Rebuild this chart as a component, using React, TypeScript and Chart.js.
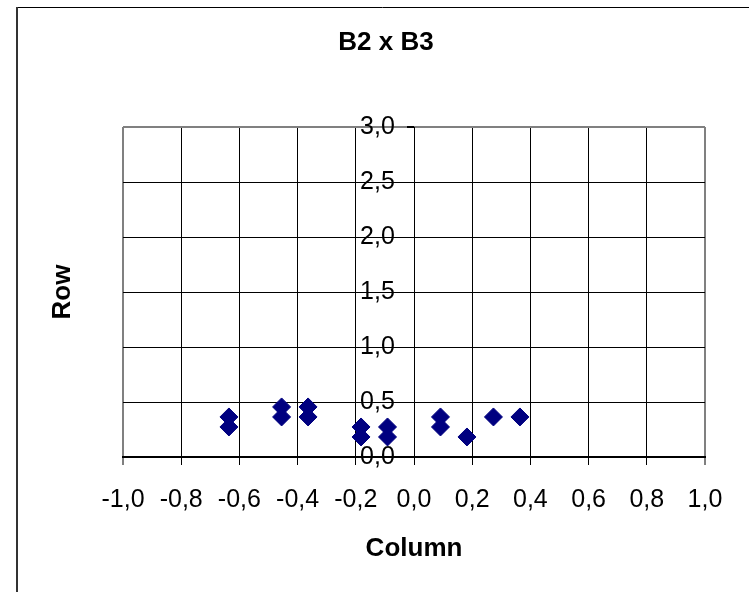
import { useEffect, useRef } from 'react';
import { Chart, registerables } from 'chart.js';

Chart.register(...registerables);

const chartTitle = 'B2 x B3';
const xAxisTitle = 'Column';
const yAxisTitle = 'Row';

const columnValues = [-0.636, -0.636, -0.455, -0.455, -0.364, -0.364, -0.182, -0.182, -0.091, -0.091, 0.091, 0.091, 0.182, 0.273, 0.364];
const rowValues = [0.364, 0.273, 0.455, 0.364, 0.455, 0.364, 0.273, 0.182, 0.273, 0.182, 0.364, 0.273, 0.182, 0.364, 0.364];

const xTicks = [-1.0, -0.8, -0.6, -0.4, -0.2, 0.0, 0.2, 0.4, 0.6, 0.8, 1.0];
const yTicks = [0.0, 0.5, 1.0, 1.5, 2.0, 2.5, 3.0];

const FONT = '"Liberation Sans", Arial, sans-serif';

const fmt = (v: number) => {
  const r = Math.round(v * 10) / 10;
  return (r === 0 ? 0 : r).toFixed(1).replace('.', ',');
};

const decorPlugin = {
  id: 'decor',
  beforeDraw(chart: any) {
    const ctx = chart.ctx;
    ctx.save();
    ctx.fillStyle = '#ffffff';
    ctx.fillRect(0, 0, chart.width, chart.height);
    ctx.strokeStyle = '#000000';
    ctx.lineWidth = 1;
    ctx.beginPath();
    ctx.moveTo(16, 7.5);
    ctx.lineTo(chart.width, 7.5);
    ctx.stroke();
    ctx.strokeStyle = '#333333';
    ctx.lineWidth = 2;
    ctx.beginPath();
    ctx.moveTo(17, 7);
    ctx.lineTo(17, chart.height);
    ctx.stroke();
    ctx.restore();
  },
  afterDraw(chart: any) {
    const ctx = chart.ctx;
    const area = chart.chartArea;
    ctx.save();
    ctx.fillStyle = '#000000';
    ctx.textAlign = 'center';
    ctx.textBaseline = 'middle';
    ctx.font = `bold 26px ${FONT}`;
    ctx.fillText(chartTitle, 386, 43);
    ctx.fillText(xAxisTitle, (area.left + area.right) / 2, 549);
    ctx.translate(63, (area.top + area.bottom) / 2);
    ctx.rotate(-Math.PI / 2);
    ctx.fillText(yAxisTitle, 0, 0);
    ctx.restore();
  },
};

export default function App() {
  const ref = useRef<HTMLCanvasElement | null>(null);

  useEffect(() => {
    if (!ref.current) return;
    const points = columnValues.map((x, i) => ({ x, y: rowValues[i] }));
    const tickFont = { family: FONT, size: 25 };
    const chart = new Chart(ref.current, {
      type: 'scatter',
      data: {
        datasets: [
          {
            label: 'B2 x B3',
            data: points,
            pointStyle: 'rectRot',
            pointRadius: 9,
            pointBackgroundColor: '#000080',
            pointBorderColor: '#000080',
            pointBorderWidth: 1,
          },
        ],
      },
      options: {
        responsive: false,
        animation: false,
        devicePixelRatio: 1,
        layout: { padding: { left: 123, top: 127, right: 44, bottom: 0 } },
        plugins: {
          legend: { display: false },
          title: { display: false },
          tooltip: { enabled: false },
        },
        scales: {
          x: {
            type: 'linear',
            position: 'bottom',
            min: -1,
            max: 1,
            afterBuildTicks: (s: any) => {
              s.ticks = xTicks.map((v) => ({ value: v }));
            },
            afterFit: (s: any) => {
              s.height = 135;
            },
            grid: {
              color: (c: any) => (c.tick && Math.abs(Math.abs(c.tick.value) - 1) < 1e-9 ? '#808080' : '#000000'),
              lineWidth: (c: any) => (c.tick && Math.abs(Math.abs(c.tick.value) - 1) < 1e-9 ? 2 : 1),
              tickLength: 8,
              tickColor: '#000000',
              tickWidth: 1,
            },
            border: { display: true, color: '#000000', width: 2 },
            ticks: {
              callback: (v: any) => fmt(Number(v)),
              color: '#000000',
              font: tickFont,
              padding: 20,
              maxRotation: 0,
              minRotation: 0,
              autoSkip: false,
            },
          },
          y: {
            type: 'linear',
            position: { x: 0 } as any,
            min: 0,
            max: 3,
            afterBuildTicks: (s: any) => {
              s.ticks = yTicks.map((v) => ({ value: v }));
            },
            grid: {
              color: (c: any) => (c.tick && Math.abs(c.tick.value - 3) < 1e-9 ? '#808080' : '#000000'),
              lineWidth: (c: any) => (c.tick && Math.abs(c.tick.value - 3) < 1e-9 ? 2 : 1),
              tickLength: 7,
              tickColor: '#000000',
            },
            border: { display: true, color: '#000000', width: 1 },
            ticks: { display: false },
          },
          yLabels: {
            type: 'linear',
            axis: 'y',
            position: { x: -0.066 } as any,
            min: 0,
            max: 3,
            afterBuildTicks: (s: any) => {
              s.ticks = yTicks.map((v) => ({ value: v }));
            },
            grid: { display: false },
            border: { display: false },
            ticks: {
              callback: (v: any) => fmt(Number(v)),
              color: '#000000',
              font: tickFont,
              autoSkip: false,
            },
          },
        },
      },
      plugins: [decorPlugin],
    });
    return () => chart.destroy();
  }, []);

  return (
    <div style={{ position: 'absolute', left: 0, top: 0, width: 749, height: 592 }}>
      <canvas ref={ref} width={749} height={592} style={{ display: 'block' }} />
    </div>
  );
}
